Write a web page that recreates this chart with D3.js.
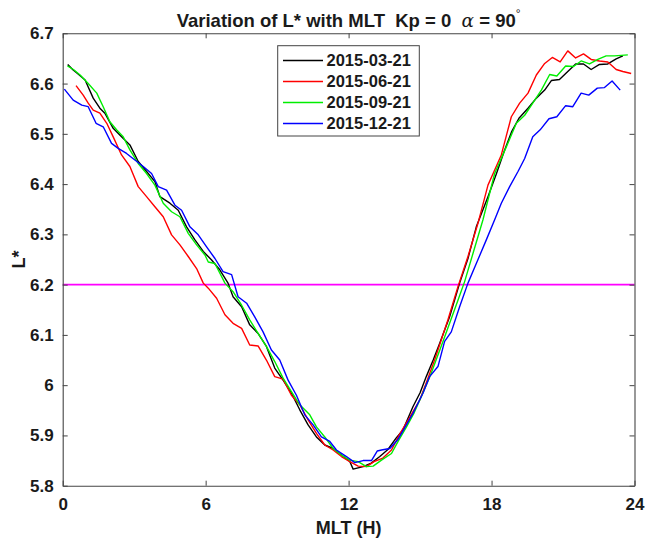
<!DOCTYPE html>
<html>
<head>
<meta charset="utf-8">
<script src="https://cdn.jsdelivr.net/npm/d3@7"></script>
<style>
  body { margin: 0; background: #fff; }
  text { font-family: "Liberation Sans", Arial, sans-serif; fill: #1a1a1a; }
</style>
</head>
<body>
<svg id="chart" width="646" height="540"></svg>
<script>
// series names and colours
var seriesNames = ["2015-03-21", "2015-06-21", "2015-09-21", "2015-12-21"];
var seriesColors = ["#000000", "#ff0000", "#00ee00", "#0000ff"];

// MLT hours and L* values
var marHours = [0.21,0.44,0.62,0.94,1.28,1.56,1.77,2.12,2.47,2.82,3.17,3.52,3.87,4.08,4.50,4.85,5.20,5.55,5.90,6.25,6.60,6.94,7.15,7.51,7.85,8.20,8.55,8.90,9.25,9.60,9.95,10.30,10.65,11.00,11.35,11.70,12.05,12.19,12.61,12.95,13.31,13.65,14.00,14.28,14.70,15.00,15.26,15.55,15.82,16.24,16.66,17.01,17.36,17.85,18.20,18.55,18.85,19.15,19.53,19.88,20.23,20.51,20.85,21.20,21.53,21.86,22.18,22.53,22.88,23.23,23.51];
var marValues = [6.638,6.627,6.620,6.607,6.571,6.551,6.541,6.511,6.494,6.478,6.445,6.425,6.405,6.375,6.362,6.348,6.315,6.289,6.266,6.249,6.229,6.203,6.176,6.156,6.120,6.103,6.077,6.034,6.010,5.984,5.951,5.921,5.897,5.881,5.874,5.861,5.848,5.833,5.838,5.845,5.858,5.872,5.895,5.911,5.957,5.985,6.017,6.050,6.083,6.136,6.203,6.252,6.315,6.375,6.420,6.468,6.505,6.531,6.551,6.571,6.587,6.606,6.608,6.624,6.639,6.639,6.628,6.638,6.639,6.649,6.655];

var junHours = [0.56,0.86,1.07,1.28,1.56,1.85,2.12,2.47,2.82,3.17,3.52,3.87,4.22,4.57,4.92,5.27,5.62,5.90,6.11,6.46,6.81,7.15,7.51,7.85,8.20,8.55,8.90,9.25,9.60,9.95,10.30,10.65,11.00,11.35,11.70,12.05,12.40,12.75,13.07,13.44,13.80,14.14,14.55,14.98,15.30,15.61,16.17,16.59,17.01,17.43,17.85,18.15,18.41,18.83,19.18,19.53,19.88,20.23,20.55,20.88,21.20,21.53,21.86,22.18,22.53,22.88,23.23,23.51,23.86];
var junValues = [6.596,6.577,6.561,6.547,6.541,6.521,6.494,6.458,6.435,6.395,6.375,6.355,6.335,6.299,6.279,6.256,6.232,6.203,6.193,6.173,6.140,6.123,6.113,6.080,6.078,6.050,6.017,6.012,5.980,5.961,5.931,5.904,5.881,5.871,5.858,5.848,5.839,5.838,5.848,5.855,5.871,5.902,5.935,5.970,6.010,6.050,6.130,6.196,6.256,6.322,6.398,6.430,6.458,6.534,6.561,6.581,6.617,6.640,6.652,6.643,6.665,6.651,6.659,6.648,6.645,6.643,6.628,6.624,6.620];

var sepHours = [0.20,0.45,0.73,1.07,1.43,1.70,1.98,2.26,2.54,2.82,3.17,3.52,3.87,4.22,4.57,4.92,5.27,5.62,5.97,6.11,6.39,6.81,7.15,7.51,7.85,8.20,8.55,8.90,9.25,9.60,9.95,10.37,10.65,11.00,11.35,11.70,12.05,12.40,12.75,13.03,13.38,13.80,14.10,14.43,14.75,15.05,15.47,16.03,16.59,16.87,17.22,17.64,18.13,18.62,19.04,19.39,19.73,20.09,20.44,20.74,21.11,21.44,21.76,22.11,22.46,22.81,23.16,23.44,23.72];
var sepValues = [6.635,6.628,6.617,6.600,6.581,6.554,6.524,6.508,6.494,6.468,6.441,6.421,6.398,6.362,6.345,6.335,6.302,6.279,6.259,6.245,6.242,6.203,6.186,6.159,6.130,6.103,6.077,6.047,6.014,5.987,5.961,5.941,5.917,5.897,5.874,5.861,5.851,5.848,5.838,5.839,5.851,5.864,5.890,5.917,5.945,5.977,6.024,6.096,6.169,6.206,6.262,6.329,6.421,6.474,6.521,6.537,6.561,6.587,6.618,6.615,6.635,6.634,6.645,6.639,6.648,6.655,6.655,6.656,6.657];

var decHours = [0.07,0.44,0.80,1.07,1.40,1.70,2.05,2.33,2.68,3.03,3.38,3.73,4.01,4.36,4.71,4.99,5.34,5.69,6.04,6.39,6.73,7.09,7.36,7.72,8.06,8.41,8.76,9.11,9.46,9.81,10.16,10.51,10.86,11.21,11.49,11.91,12.26,12.61,12.96,13.20,13.38,13.73,14.07,14.22,14.70,15.12,15.40,15.75,16.03,16.31,16.66,17.01,17.36,17.78,18.13,18.41,18.76,19.11,19.39,19.73,20.04,20.41,20.74,21.11,21.41,21.76,22.08,22.44,22.74,23.06,23.40];
var decValues = [6.589,6.567,6.557,6.554,6.521,6.514,6.481,6.471,6.461,6.448,6.435,6.421,6.395,6.388,6.358,6.348,6.315,6.299,6.275,6.252,6.226,6.220,6.176,6.163,6.136,6.106,6.070,6.050,6.010,5.980,5.941,5.921,5.897,5.888,5.871,5.858,5.846,5.850,5.850,5.869,5.871,5.874,5.892,5.904,5.944,5.984,6.017,6.037,6.087,6.106,6.156,6.203,6.242,6.289,6.329,6.362,6.395,6.425,6.451,6.494,6.508,6.530,6.534,6.556,6.554,6.581,6.577,6.591,6.592,6.605,6.587];

var refLevel = 6.2;
var xTicks = [0, 6, 12, 18, 24];
var yTicks = [5.8, 5.9, 6.0, 6.1, 6.2, 6.3, 6.4, 6.5, 6.6, 6.7];

var seriesHours = [marHours, junHours, sepHours, decHours];
var seriesValues = [marValues, junValues, sepValues, decValues];

var svg = d3.select("#chart");
var plotLeft = 62.7, plotRight = 634.5, plotTop = 33.3, plotBottom = 485.7;

var x = d3.scaleLinear().domain([0, 24]).range([plotLeft, plotRight]);
var y = d3.scaleLinear().domain([5.8, 6.7]).range([plotBottom, plotTop]);

svg.append("defs").append("clipPath").attr("id", "plotclip")
  .append("rect").attr("x", plotLeft).attr("y", plotTop)
  .attr("width", plotRight - plotLeft).attr("height", plotBottom - plotTop);

// reference line
svg.append("line")
  .attr("x1", x(0)).attr("x2", x(24))
  .attr("y1", y(refLevel)).attr("y2", y(refLevel))
  .attr("stroke", "#ff00ff").attr("stroke-width", 1.6);

// data lines
var line = d3.line().x(function(d) { return x(d[0]); }).y(function(d) { return y(d[1]); });
var plot = svg.append("g").attr("clip-path", "url(#plotclip)");
seriesNames.forEach(function(name, i) {
  var pts = seriesHours[i].map(function(h, j) { return [h, seriesValues[i][j]]; });
  plot.append("path")
    .datum(pts)
    .attr("d", line)
    .attr("fill", "none")
    .attr("stroke", seriesColors[i])
    .attr("stroke-width", 1.4)
    .attr("stroke-linejoin", "round");
});

// axes, ticks pointing inward on all sides
var fmt = d3.format("~g");
function styleAxis(g, hideLabels) {
  g.select(".domain").attr("stroke", "#444").attr("stroke-width", 1.1);
  g.selectAll(".tick line").attr("stroke", "#444").attr("stroke-width", 1);
  g.selectAll(".tick text")
    .attr("fill", "#1a1a1a")
    .style("font-family", '"Liberation Sans", Arial, sans-serif')
    .style("font-size", "17px")
    .style("font-weight", "bold");
  if (hideLabels) g.selectAll(".tick text").remove();
}

svg.append("g").attr("transform", "translate(0," + plotBottom + ")")
  .call(d3.axisBottom(x).tickValues(xTicks).tickSizeInner(-5).tickSizeOuter(0).tickPadding(12).tickFormat(fmt))
  .call(styleAxis, false);
svg.append("g").attr("transform", "translate(0," + plotTop + ")")
  .call(d3.axisTop(x).tickValues(xTicks).tickSizeInner(-5).tickSizeOuter(0))
  .call(styleAxis, true);
svg.append("g").attr("transform", "translate(" + plotLeft + ",0)")
  .call(d3.axisLeft(y).tickValues(yTicks).tickSizeInner(-5).tickSizeOuter(0).tickPadding(9).tickFormat(fmt))
  .call(styleAxis, false);
svg.append("g").attr("transform", "translate(" + plotRight + ",0)")
  .call(d3.axisRight(y).tickValues(yTicks).tickSizeInner(-5).tickSizeOuter(0))
  .call(styleAxis, true);

// title
var title = svg.append("text")
  .attr("x", (plotLeft + plotRight) / 2).attr("y", 26.7)
  .attr("text-anchor", "middle")
  .style("font-size", "18.5px").style("font-weight", "bold")
  .style("white-space", "pre");
title.append("tspan").text("Variation of L* with MLT  Kp = 0  ");
title.append("tspan").text("\u03b1")
  .style("font-family", '"DejaVu Serif", serif').style("font-style", "italic").style("font-weight", "normal");
title.append("tspan").text(" = 90");
title.append("tspan").text("\u00b0").attr("dy", -9).style("font-size", "12px").style("font-weight", "normal");

// axis labels
svg.append("text")
  .attr("x", (plotLeft + plotRight) / 2).attr("y", 534)
  .attr("text-anchor", "middle")
  .style("font-size", "18px").style("font-weight", "bold")
  .text("MLT (H)");
svg.append("text")
  .attr("transform", "translate(25," + (plotTop + plotBottom) / 2 + ") rotate(-90)")
  .attr("text-anchor", "middle")
  .style("font-size", "18px").style("font-weight", "bold")
  .text("L*");

// legend
var lg = svg.append("g");
lg.append("rect")
  .attr("x", 277.7).attr("y", 45.7).attr("width", 141.6).attr("height", 90.3)
  .attr("fill", "#fff").attr("stroke", "#444").attr("stroke-width", 1);
seriesNames.forEach(function(name, i) {
  var ry = 60.5 + i * 21;
  lg.append("line")
    .attr("x1", 283).attr("x2", 323).attr("y1", ry).attr("y2", ry)
    .attr("stroke", seriesColors[i]).attr("stroke-width", 1.4);
  lg.append("text")
    .attr("x", 326.5).attr("y", ry).attr("dy", "0.36em")
    .style("font-size", "16.5px").style("font-weight", "bold")
    .text(name);
});
</script>
</body>
</html>
